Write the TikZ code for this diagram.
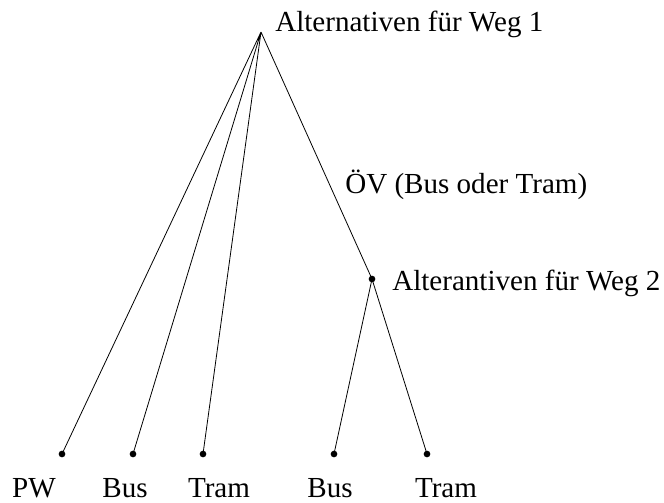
\documentclass[tikz,border=0pt]{standalone}
\usepackage{fontspec}
\setmainfont{Liberation Serif}
\usetikzlibrary{positioning}

\begin{document}
\begin{tikzpicture}[%
        x=0.75pt, y=-0.75pt,
        font=\fontsize{21.8}{26}\selectfont,
        ast/.style={draw, line width=0.6pt},
        knoten/.style={circle, fill=black, inner sep=0pt, minimum size=5pt},
        txt/.style={inner sep=0pt, anchor=base west}
        ]
            \useasboundingbox (0,0) rectangle (664,503);

            % Knoten
            \coordinate (W1) at (261,32);
            \node[knoten] (W2) at (372,279) {};
            \node[knoten] (PW)   at (62,454)  {};
            \node[knoten] (Bus)  at (133,454) {};
            \node[knoten] (Tram) at (203,454) {};
            \node[knoten] (Bus2) at (334,454) {};
            \node[knoten] (Tram2) at (427,454) {};

            % Kanten
            \draw[ast]  (W1) -- (PW.center)
                        (W1) -- (Bus.center)
                        (W1) -- (Tram.center)
                        (W1) -- (W2.center)
                        (W2.center) -- (Bus2.center)
                        (W2.center) -- (Tram2.center);

            % Beschriftungen
            \node[txt] (lW1) at (275,32) {Alternativen für Weg 1};
            \node[txt] (lOV) at (345,193) {ÖV (Bus oder Tram)};
            \node[txt] (lW2) at (392,290) {Alterantiven für Weg 2};

            \node[txt, anchor=base] (lPW)    at (34,497)  {PW};
            \node[txt, anchor=base] (lBus)   at (125,497) {Bus};
            \node[txt, anchor=base] (lTram)  at (219,497) {Tram};
            \node[txt, anchor=base] (lBus2)  at (330,497) {Bus};
            \node[txt, anchor=base] (lTram2) at (446,497) {Tram};

        \end{tikzpicture}
\end{document}
